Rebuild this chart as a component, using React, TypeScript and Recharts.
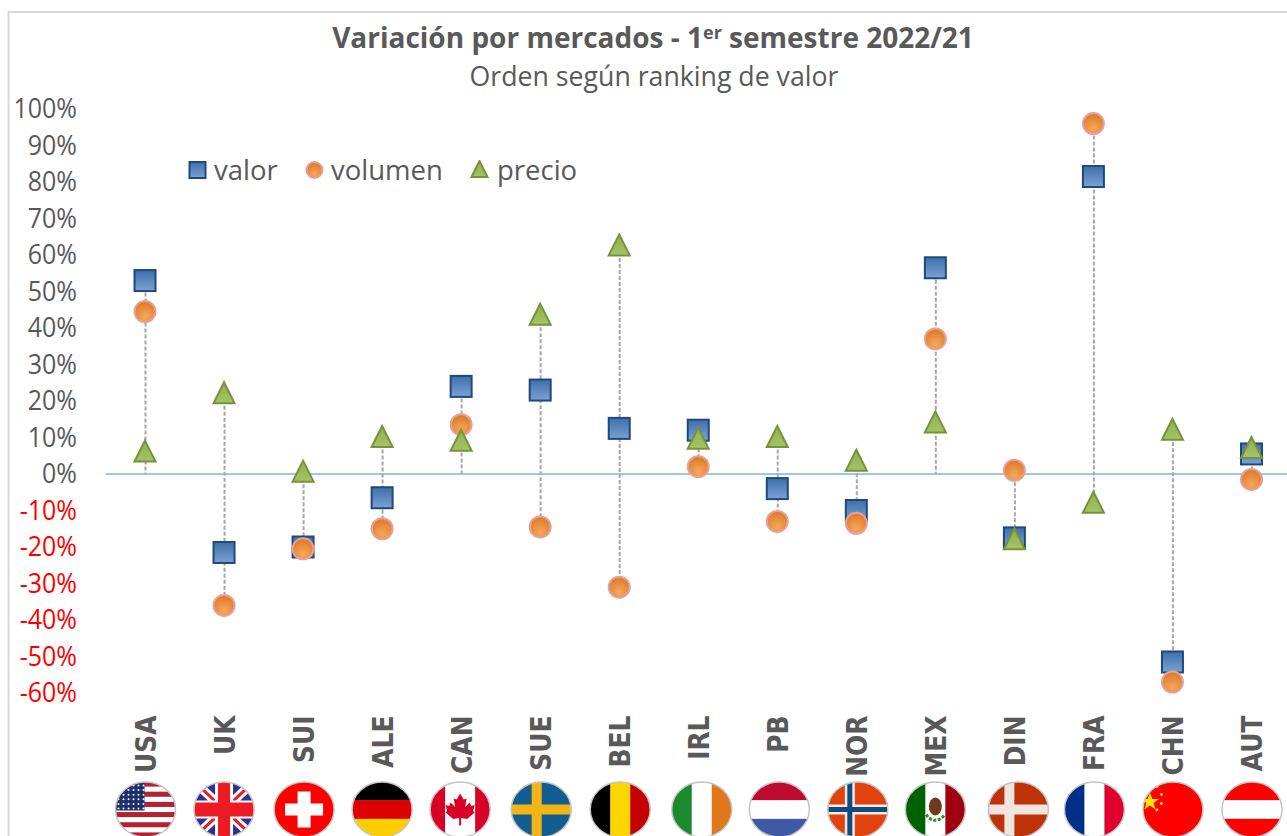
import { ComposedChart, Bar, Line, XAxis, YAxis, ReferenceLine } from 'recharts';

const markets = ['USA', 'UK', 'SUI', 'ALE', 'CAN', 'SUE', 'BEL', 'IRL', 'PB', 'NOR', 'MEX', 'DIN', 'FRA', 'CHN', 'AUT'];
const valor = [53, -21.5, -20, -6.5, 24, 23, 12.5, 12, -4, -10, 56.5, -17.5, 81.5, -51.5, 5.5];
const volumen = [44.5, -36, -20.5, -15, 13.5, -14.5, -31, 2, -13, -13.5, 37, 1, 96, -57, -1.5];
const precio = [6, 22, 0.5, 10, 9, 43.5, 62.5, 9.5, 10, 3.5, 14, -18, -8, 12, 7];
const yTicks = [100, 90, 80, 70, 60, 50, 40, 30, 20, 10, 0, -10, -20, -30, -40, -50, -60];

// high-low stems run through the zero line as well, as in the source chart
const rows = markets.map((m, i) => ({
  market: m,
  valor: valor[i],
  volumen: volumen[i],
  precio: precio[i],
  range: [Math.min(0, valor[i], volumen[i], precio[i]), Math.max(0, valor[i], volumen[i], precio[i])],
}));

const FONT = "'Open Sans', 'Noto Sans', sans-serif";
const C = { text: '#595959', red: '#ff0000', zero: '#7fb0ea', stem: '#a6a6a6', frame: '#d9d9d9' };

const Square = ({ cx, cy, s = 23 }: any) => (
  <rect x={cx - s / 2 + 1} y={cy - s / 2 + 1} width={s - 2} height={s - 2} fill="url(#gValor)" stroke="#1f497d" strokeWidth={2} />
);
const Circle = ({ cx, cy, r = 11.5 }: any) => (
  <circle cx={cx} cy={cy} r={r - 1} fill="url(#gVol)" stroke="#e6a09a" strokeWidth={2} />
);
const Tri = ({ cx, cy, s = 21 }: any) => (
  <path d={`M${cx} ${cy - s / 2 - 1}L${cx + s / 2} ${cy + s / 2 - 1}L${cx - s / 2} ${cy + s / 2 - 1}Z`} fill="url(#gPre)" stroke="#76923c" strokeWidth={2} />
);

const Stem = ({ x, y, width, height }: any) => (
  <line x1={x + width / 2} x2={x + width / 2} y1={y} y2={y + height} stroke={C.stem} strokeWidth={2} strokeDasharray="4 2" />
);

const Stripes = ({ colors }: { colors: string[] }) => (
  <>
    {colors.map((c, i) => (
      <rect key={i} x={-30} y={-28 + (i * 56) / colors.length} width={60} height={56 / colors.length + 0.5} fill={c} />
    ))}
  </>
);
const Bands = ({ colors, side = 20 }: { colors: string[]; side?: number }) => (
  <>
    <rect x={-30} y={-28} width={side + 0.5} height={56} fill={colors[0]} />
    <rect x={-30 + side} y={-28} width={60 - 2 * side} height={56} fill={colors[1]} />
    <rect x={30 - side} y={-28} width={side} height={56} fill={colors[2]} />
  </>
);
const Cross = ({ bg, fg, inner, cxv = -6 }: any) => (
  <>
    <rect x={-30} y={-28} width={60} height={56} fill={bg} />
    <rect x={cxv - 5} y={-28} width={10} height={56} fill={fg} />
    <rect x={-30} y={-5} width={60} height={10} fill={fg} />
    {inner && <rect x={cxv - 2.5} y={-28} width={5} height={56} fill={inner} />}
    {inner && <rect x={-30} y={-2.5} width={60} height={5} fill={inner} />}
  </>
);

const usaDots = [0, 1, 2, 3, 4, 5];
const flags: Record<string, any> = {
  USA: (
    <>
      <Stripes colors={['#b22234', '#fff', '#b22234', '#fff', '#b22234', '#fff', '#b22234', '#fff', '#b22234', '#fff', '#b22234']} />
      <rect x={-30} y={-28} width={29} height={29} fill="#1c2f6b" />
      {usaDots.map((a) => usaDots.map((b) => <circle key={`${a}${b}`} cx={-27 + a * 5} cy={-24 + b * 4.6} r={1} fill="#fff" />))}
    </>
  ),
  UK: (
    <>
      <rect x={-30} y={-28} width={60} height={56} fill="#2e3192" />
      <path d="M-30 -28L30 28M30 -28L-30 28" stroke="#fff" strokeWidth={9} />
      <path d="M-30 -28L30 28M30 -28L-30 28" stroke="#ed1c24" strokeWidth={3} />
      <rect x={-9} y={-28} width={18} height={56} fill="#fff" />
      <rect x={-30} y={-9} width={60} height={18} fill="#fff" />
      <rect x={-6} y={-28} width={12} height={56} fill="#ed1c24" />
      <rect x={-30} y={-7} width={60} height={14} fill="#ed1c24" />
    </>
  ),
  SUI: (
    <>
      <rect x={-30} y={-28} width={60} height={56} fill="#ff0000" />
      <rect x={-6.5} y={-18} width={13} height={36} fill="#fff" />
      <rect x={-19} y={-6} width={38} height={12} fill="#fff" />
    </>
  ),
  ALE: <Stripes colors={['#000', '#dd0000', '#ffce00']} />,
  CAN: (
    <>
      <Bands colors={['#d80027', '#fff', '#d80027']} side={15} />
      <path d="M0 -16L3.5 -10L6.5 -11L5 -2.5L9.5 -7L11 -3.5L14.5 -4.5L13 1.5L14.5 3L7 9.5L1 8.5L1 16L-1 16L-1 8.5L-7 9.5L-14.5 3L-13 1.5L-14.5 -4.5L-11 -3.5L-9.5 -7L-5 -2.5L-6.5 -11L-3.5 -10Z" fill="#d80027" />
    </>
  ),
  SUE: <Cross bg="#125d8f" fg="#f3b516" cxv={-4.5} />,
  BEL: <Bands colors={['#000', '#ffd500', '#c40000']} />,
  IRL: <Bands colors={['#1b8a2f', '#fff', '#e0771a']} />,
  PB: <Stripes colors={['#bf0a30', '#fff', '#3f59a6']} />,
  NOR: <Cross bg="#e2420d" fg="#f4ece6" inner="#0f4a80" cxv={-8} />,
  MEX: (
    <>
      <Bands colors={['#006100', '#fff', '#a00010']} />
      <ellipse cx={0} cy={-3} rx={6.5} ry={9} fill="#6b3d1e" />
      <path d="M-9 5A10 10 0 0 0 9 5" fill="none" stroke="#2f8a3c" strokeWidth={3} strokeDasharray="3 1.5" />
    </>
  ),
  DIN: <Cross bg="#bd3207" fg="#f1e6df" cxv={-9} />,
  FRA: <Bands colors={['#002f87', '#fff', '#df0030']} />,
  CHN: (
    <>
      <rect x={-30} y={-28} width={60} height={56} fill="#ff0000" />
      <path d="M-23 -17L-20.6 -10.5L-14 -10.5L-19.4 -6.5L-17.4 0L-23 -4L-28.6 0L-26.6 -6.5L-32 -10.5L-25.4 -10.5Z" fill="#ffe600" />
      <circle cx={-16} cy={-23} r={1.4} fill="#ffe600" />
      <circle cx={-11.5} cy={-15} r={1.4} fill="#ffe600" />
      <circle cx={-11.5} cy={-6} r={1.4} fill="#ffe600" />
      <circle cx={-16} cy={0.5} r={1.4} fill="#ffe600" />
    </>
  ),
  AUT: <Stripes colors={['#ff0000', '#fff', '#ff0000']} />,
};
// flags were hand placed in the source, not quite on the tick
const flagShift: Record<string, number> = { USA: 0.5, UK: 0, SUI: 1, ALE: 0, CAN: -1, SUE: 1, BEL: 1, IRL: 3.5, PB: 2, NOR: 1.5, MEX: 0, DIN: 4, FRA: 1, CHN: 0.5, AUT: 0.5 };

const XTick = ({ x, payload }: any) => {
  const code = payload.value;
  return (
    <g>
      <defs>
        <clipPath id={`clip${code}`}>
          <ellipse cx={0} cy={0} rx={30} ry={27.5} />
        </clipPath>
      </defs>
      <text
        transform={`translate(${x + 11},715.5) scale(1,0.86) rotate(-90)`}
        textAnchor="end"
        fontFamily="'DejaVu Sans', sans-serif"
        fontWeight={700}
        fontSize={29}
        fill={C.text}
      >
        {code}
      </text>
      <g transform={`translate(${x + flagShift[code]},809.5)`}>
        <g clipPath={`url(#clip${code})`}>{flags[code]}</g>
        <ellipse cx={0} cy={0} rx={30} ry={27.5} fill="none" stroke="#c4c4c4" strokeWidth={1.5} />
      </g>
    </g>
  );
};

const YTick = ({ y, payload }: any) => (
  <text transform={`translate(77,${y + 9}) scale(1,1.1)`} textAnchor="end" fontFamily={FONT} fontSize={25} fill={payload.value < 0 ? C.red : C.text}>
    {payload.value}%
  </text>
);

const legendItems = [
  { label: 'valor', left: 188, textLeft: 214, mark: <Square cx={9.5} cy={10} s={18} /> },
  { label: 'volumen', left: 305, textLeft: 331, mark: <Circle cx={9.5} cy={10} r={9} /> },
  { label: 'precio', left: 470, textLeft: 497, mark: <Tri cx={9.5} cy={10} s={16} /> },
];

const LegendBox = () => (
  <div style={{ position: 'absolute', left: 188, top: 150, width: 420, height: 40 }}>
    {legendItems.map((it) => (
      <div key={it.label}>
        <svg width={20} height={20} style={{ position: 'absolute', left: it.left - 188, top: 10 }}>
          {it.mark}
        </svg>
        <span style={{ position: 'absolute', left: it.textLeft - 188, top: 0, fontFamily: FONT, fontSize: 27.5, lineHeight: '40px', color: C.text }}>
          {it.label}
        </span>
      </div>
    ))}
  </div>
);

export default function App() {
  return (
    <div style={{ position: 'absolute', left: 0, top: 0, width: 1287, height: 836, overflow: 'hidden', background: '#fff' }}>
      <ComposedChart width={1291} height={836} data={rows} margin={{ top: 109, right: 0, bottom: 0, left: 0 }}>
        <defs>
          <linearGradient id="gValor" x1="0" y1="0" x2="0" y2="1">
            <stop offset="0%" stopColor="#3f6eaa" />
            <stop offset="100%" stopColor="#7aa3d5" />
          </linearGradient>
          <radialGradient id="gVol" cx="50%" cy="75%" r="70%">
            <stop offset="0%" stopColor="#f7a85c" />
            <stop offset="100%" stopColor="#dd7a28" />
          </radialGradient>
          <linearGradient id="gPre" x1="0" y1="0" x2="0" y2="1">
            <stop offset="0%" stopColor="#8db04c" />
            <stop offset="100%" stopColor="#a5c465" />
          </linearGradient>
        </defs>
        <rect x={8.5} y={12} width={1300} height={840} fill="none" stroke={C.frame} strokeWidth={2} />
        <text x={653} y={48} textAnchor="middle" fontFamily={FONT} fontWeight={700} fontSize={28} fill={C.text}>
          Variación por mercados - 1<tspan fontSize={18} dy={-9}>er</tspan>
          <tspan dy={9}> semestre 2022/21</tspan>
        </text>
        <text x={654} y={86} textAnchor="middle" fontFamily={FONT} fontSize={26.7} fill={C.text}>
          Orden según ranking de valor
        </text>
        <XAxis dataKey="market" axisLine={false} tickLine={false} interval={0} height={143} tick={<XTick />} />
        <YAxis width={105.5} domain={[-60, 100]} ticks={yTicks} interval={0} axisLine={false} tickLine={false} tick={<YTick />} />
        <ReferenceLine y={0} stroke={C.zero} strokeWidth={1.5} />
        <Bar dataKey="range" barSize={4} shape={<Stem />} isAnimationActive={false} />
        <Line dataKey="valor" stroke="none" dot={(p: any) => <Square key={p.index} cx={p.cx} cy={p.cy} />} isAnimationActive={false} />
        <Line dataKey="volumen" stroke="none" dot={(p: any) => <Circle key={p.index} cx={p.cx} cy={p.cy} />} isAnimationActive={false} />
        <Line dataKey="precio" stroke="none" dot={(p: any) => <Tri key={p.index} cx={p.cx} cy={p.cy} />} isAnimationActive={false} />
      </ComposedChart>
      <LegendBox />
    </div>
  );
}
